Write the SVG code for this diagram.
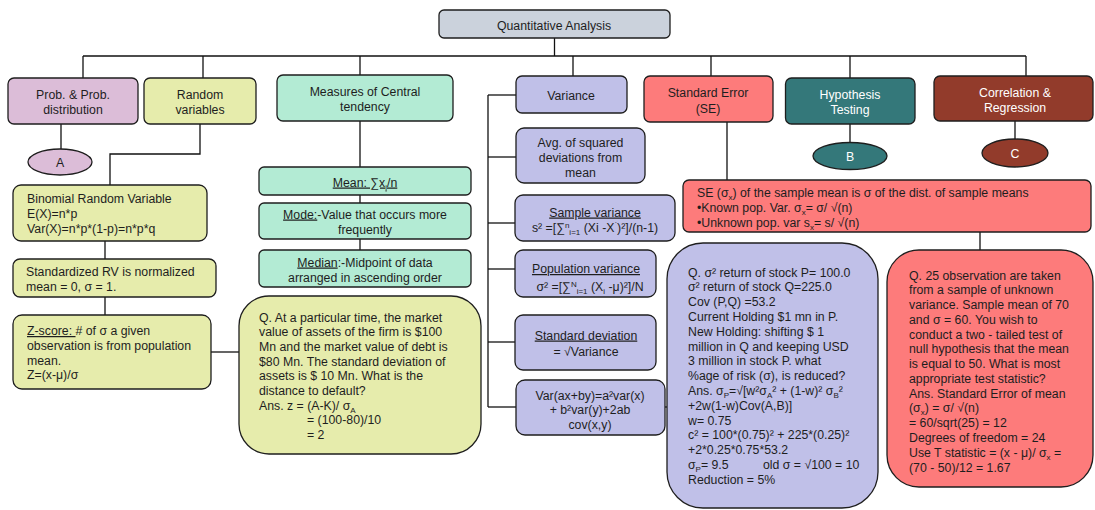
<svg xmlns="http://www.w3.org/2000/svg" width="1095" height="510" viewBox="0 0 1095 510">
<style>
text{font-family:"Liberation Sans",Arial,sans-serif;font-size:12.3px;fill:#1e1e1e}
.c{text-anchor:middle}
.w{fill:#ffffff}
.b{stroke:#1e1e1e;stroke-width:1.3}
.gray{fill:#cbd2dc}.pink{fill:#dcbdd8}.yel{fill:#e6ecac}.mint{fill:#b3ebd4}.pur{fill:#c0c0e8}.red{fill:#fd7b7b}.teal{fill:#34787a}.brown{fill:#923b2b}
.s{font-size:8px}
.u{text-decoration:underline}
#connectors line,#connectors polyline{stroke:#111;stroke-width:1.3;fill:none}
</style>
<g id="connectors">
<line x1="554.5" y1="38" x2="554.5" y2="56"/>
<line x1="83" y1="56" x2="1026" y2="56"/>
<line x1="83" y1="56" x2="83" y2="78"/>
<line x1="203" y1="56" x2="203" y2="78"/>
<line x1="360" y1="56" x2="360" y2="75"/>
<line x1="573" y1="56" x2="573" y2="76"/>
<line x1="711" y1="56" x2="711" y2="76"/>
<line x1="850" y1="56" x2="850" y2="78"/>
<line x1="1026" y1="56" x2="1026" y2="76"/>
<line x1="61" y1="124" x2="61" y2="149"/>
<polyline points="200,124 200,154 110,154 110,185"/>
<line x1="105" y1="241" x2="105" y2="259"/>
<line x1="105" y1="297" x2="105" y2="315"/>
<line x1="211" y1="352" x2="239" y2="352"/>
<line x1="360" y1="121" x2="360" y2="167"/>
<line x1="360" y1="195" x2="360" y2="203"/>
<line x1="360" y1="239" x2="360" y2="250"/>
<line x1="488" y1="95" x2="488" y2="407"/>
<line x1="488" y1="95" x2="516" y2="95"/>
<line x1="488" y1="157" x2="516" y2="157"/>
<line x1="488" y1="223" x2="515" y2="223"/>
<line x1="488" y1="269" x2="515" y2="269"/>
<line x1="488" y1="342" x2="515" y2="342"/>
<line x1="488" y1="407" x2="516" y2="407"/>
<line x1="665" y1="407" x2="668" y2="407"/>
<line x1="727" y1="122" x2="727" y2="180"/>
<line x1="980" y1="232" x2="980" y2="250"/>
<line x1="850" y1="124" x2="850" y2="143"/>
<line x1="1015" y1="121" x2="1015" y2="139"/>
</g>
<g id="quant">
<rect class="b gray" x="439" y="10" width="231" height="28" rx="5"/>
<text class="c" x="554" y="29.5">Quantitative Analysis</text>
</g>
<g id="prob">
<rect class="b pink" x="8" y="78" width="130" height="46" rx="6"/>
<text class="c" x="73" y="98.5">Prob. &amp; Prob.</text>
<text class="c" x="73" y="113.5">distribution</text>
</g>
<g id="nodeA">
<ellipse class="b pink" cx="60" cy="162" rx="32" ry="13"/>
<text class="c" x="60" y="166.5">A</text>
</g>
<g id="random">
<rect class="b yel" x="144" y="78" width="112" height="46" rx="6"/>
<text class="c" x="200" y="98.5">Random</text>
<text class="c" x="200" y="113.5">variables</text>
</g>
<g id="measures">
<rect class="b mint" x="277" y="75" width="176" height="46" rx="6"/>
<text class="c" x="365" y="95.5">Measures of Central</text>
<text class="c" x="365" y="110.5">tendency</text>
</g>
<g id="variance">
<rect class="b pur" x="516" y="76" width="111" height="37" rx="6"/>
<text class="c" x="571" y="99.5">Variance</text>
</g>
<g id="se">
<rect class="b red" x="644" y="76" width="129" height="46" rx="6"/>
<text class="c" x="708" y="96.5">Standard Error</text>
<text class="c" x="708" y="112.5">(SE)</text>
</g>
<g id="hyp">
<rect class="b teal" x="785.5" y="78" width="129.5" height="46" rx="6"/>
<text class="c w" x="850" y="98.5">Hypothesis</text>
<text class="c w" x="850" y="113.5">Testing</text>
</g>
<g id="nodeB">
<ellipse class="b teal" cx="850" cy="156" rx="37" ry="13.5"/>
<text class="c w" x="850" y="160.5">B</text>
</g>
<g id="corr">
<rect class="b brown" x="934" y="76" width="159" height="45" rx="6"/>
<text class="c w" x="1015" y="96.5">Correlation &amp;</text>
<text class="c w" x="1015" y="111.5">Regression</text>
</g>
<g id="nodeC">
<ellipse class="b brown" cx="1015" cy="153" rx="33" ry="14"/>
<text class="c w" x="1015" y="157.5">C</text>
</g>
<g id="binomial">
<rect class="b yel" x="13" y="185" width="194" height="56" rx="8"/>
<text x="27" y="203">Binomial Random Variable</text>
<text x="27" y="218">E(X)=n*p</text>
<text x="27" y="233">Var(X)=n*p*(1-p)=n*p*q</text>
</g>
<g id="standardized">
<rect class="b yel" x="13" y="259" width="203" height="38" rx="7"/>
<text x="26" y="275.5">Standardized RV is normalized</text>
<text x="26" y="290.5">mean = 0, σ = 1.</text>
</g>
<g id="zscore">
<rect class="b yel" x="13" y="315" width="198" height="74" rx="9"/>
<text x="27" y="335"><tspan class="u">Z-score: </tspan># of σ a given</text>
<text x="27" y="350">observation is from population</text>
<text x="27" y="364.5">mean.</text>
<text x="27" y="379">Z=(x-μ)/σ</text>
</g>
<g id="qdefault">
<rect class="b yel" x="239" y="296" width="242" height="158" rx="30"/>
<text x="259" y="321.5">Q. At a particular time, the market</text>
<text x="259" y="336.2">value of assets of the firm is $100</text>
<text x="259" y="350.9">Mn and the market value of debt is</text>
<text x="259" y="365.6">$80 Mn. The standard deviation of</text>
<text x="259" y="380.3">assets is $ 10 Mn. What is the</text>
<text x="259" y="395">distance to default?</text>
<text x="259" y="409.7">Ans. z = (A-K)/ σ<tspan class="s" dy="3">A</tspan></text>
<text x="307" y="424.4">= (100-80)/10</text>
<text x="307" y="439.1">= 2</text>
</g>
<g id="mean">
<rect class="b mint" x="259" y="167" width="212" height="28" rx="5"/>
<text class="c" x="365" y="186.5"><tspan class="u">Mean: ∑x<tspan class="s" dy="3">i</tspan><tspan dy="-3">/n</tspan></tspan></text>
</g>
<g id="mode">
<rect class="b mint" x="259" y="203" width="212" height="36" rx="5"/>
<text class="c" x="365" y="218.5"><tspan class="u">Mode:</tspan>-Value that occurs more</text>
<text class="c" x="365" y="233.5">frequently</text>
</g>
<g id="median">
<rect class="b mint" x="259" y="250" width="212" height="37" rx="5"/>
<text class="c" x="365" y="266.5"><tspan class="u">Median</tspan>:-Midpoint of data</text>
<text class="c" x="365" y="281.5">arranged in ascending order</text>
</g>
<g id="avg">
<rect class="b pur" x="516" y="128" width="129" height="55" rx="8"/>
<text class="c" x="580.5" y="146.5">Avg. of squared</text>
<text class="c" x="580.5" y="161.5">deviations from</text>
<text class="c" x="580.5" y="176.5">mean</text>
</g>
<g id="samplevar">
<rect class="b pur" x="515" y="195" width="160" height="46" rx="8"/>
<text class="c" x="595" y="216.5"><tspan class="u">Sample variance</tspan></text>
<text class="c" x="595" y="231.5">s² =[∑<tspan class="s" dy="-4">n</tspan><tspan class="s" dy="7">i=1</tspan><tspan dy="-3"> (Xi -X</tspan><tspan class="s" dy="-5">`</tspan><tspan dy="5">)²]/(n-1)</tspan></text>
</g>
<g id="popvar">
<rect class="b pur" x="515" y="250" width="141" height="47" rx="8"/>
<text class="c" x="586" y="273"><tspan class="u">Population variance</tspan></text>
<text class="c" x="590" y="291">σ² =[∑<tspan class="s" dy="-4">N</tspan><tspan class="s" dy="7">i=1</tspan><tspan dy="-3"> (X</tspan><tspan class="s" dy="3">i</tspan><tspan dy="-3"> -μ)²]/N</tspan></text>
</g>
<g id="stddev">
<rect class="b pur" x="515" y="315" width="141" height="55" rx="8"/>
<text class="c" x="586" y="339.5"><tspan class="u">Standard deviation</tspan></text>
<text class="c" x="586" y="355.5">= √Variance</text>
</g>
<g id="varaxby">
<rect class="b pur" x="516" y="380" width="149" height="55" rx="9"/>
<text class="c" x="590" y="399.5">Var(ax+by)=a²var(x)</text>
<text class="c" x="590" y="413.5">+ b²var(y)+2ab</text>
<text class="c" x="590" y="428.5">cov(x,y)</text>
</g>
<g id="sedef">
<rect class="b red" x="683" y="180" width="408" height="52" rx="6"/>
<text x="697" y="196.5">SE (σ<tspan class="s" dy="3">x</tspan><tspan dy="-3">) of the sample mean is σ of the dist. of sample means</tspan></text>
<text x="697" y="211.5">•Known pop. Var. σ<tspan class="s" dy="3">x</tspan><tspan dy="-3">= σ/ √(n)</tspan></text>
<text x="697" y="226.5">•Unknown pop. var s<tspan class="s" dy="3">x</tspan><tspan dy="-3">= s/ √(n)</tspan></text>
</g>
<g id="qrisk">
<rect class="b pur" x="667" y="243" width="211" height="265" rx="36"/>
<text x="688" y="276.5">Q. σ² return of stock P= 100.0</text>
<text x="688" y="291.3">σ² return of stock Q=225.0</text>
<text x="688" y="306.1">Cov (P,Q) =53.2</text>
<text x="688" y="320.9">Current Holding $1 mn in P.</text>
<text x="688" y="335.7">New Holding: shifting $ 1</text>
<text x="688" y="350.5">million in Q and keeping USD</text>
<text x="688" y="365.3">3 million in stock P. what</text>
<text x="688" y="380.1">%age of risk (σ), is reduced?</text>
<text x="688" y="394.9">Ans. σ<tspan class="s" dy="3">P</tspan><tspan dy="-3">=√[w²σ</tspan><tspan class="s" dy="3">A</tspan><tspan dy="-3">² + (1-w)² σ</tspan><tspan class="s" dy="3">B</tspan><tspan dy="-3">²</tspan></text>
<text x="688" y="409.7">+2w(1-w)Cov(A,B)]</text>
<text x="688" y="424.5">w= 0.75</text>
<text x="688" y="439.3">c² = 100*(0.75)² + 225*(0.25)²</text>
<text x="688" y="454.1">+2*0.25*0.75*53.2</text>
<text x="688" y="468.9">σ<tspan class="s" dy="3">P</tspan><tspan dy="-3">= 9.5</tspan><tspan x="763">old σ = √100 = 10</tspan></text>
<text x="688" y="483.7">Reduction = 5%</text>
</g>
<g id="qttest">
<rect class="b red" x="887" y="250" width="206" height="237" rx="32"/>
<text x="909" y="279.5">Q. 25 observation are taken</text>
<text x="909" y="294.3">from a sample of unknown</text>
<text x="909" y="309">variance. Sample mean of 70</text>
<text x="909" y="323.8">and σ = 60. You wish to</text>
<text x="909" y="338.6">conduct a two - tailed test of</text>
<text x="909" y="353.3">null hypothesis that the mean</text>
<text x="909" y="368.1">is equal to 50. What is most</text>
<text x="909" y="382.9">appropriate test statistic?</text>
<text x="909" y="397.6">Ans. Standard Error of mean</text>
<text x="909" y="412.4">(σ<tspan class="s" dy="3">x</tspan><tspan dy="-3">) = σ/ √(n)</tspan></text>
<text x="909" y="427.2"> = 60/sqrt(25) = 12</text>
<text x="909" y="441.9">Degrees of freedom = 24</text>
<text x="909" y="456.7">Use T statistic = (x - μ)/ σ<tspan class="s" dy="3">x</tspan><tspan dy="-3"> =</tspan></text>
<text x="909" y="471.5">(70 - 50)/12 = 1.67</text>
</g>
</svg>
